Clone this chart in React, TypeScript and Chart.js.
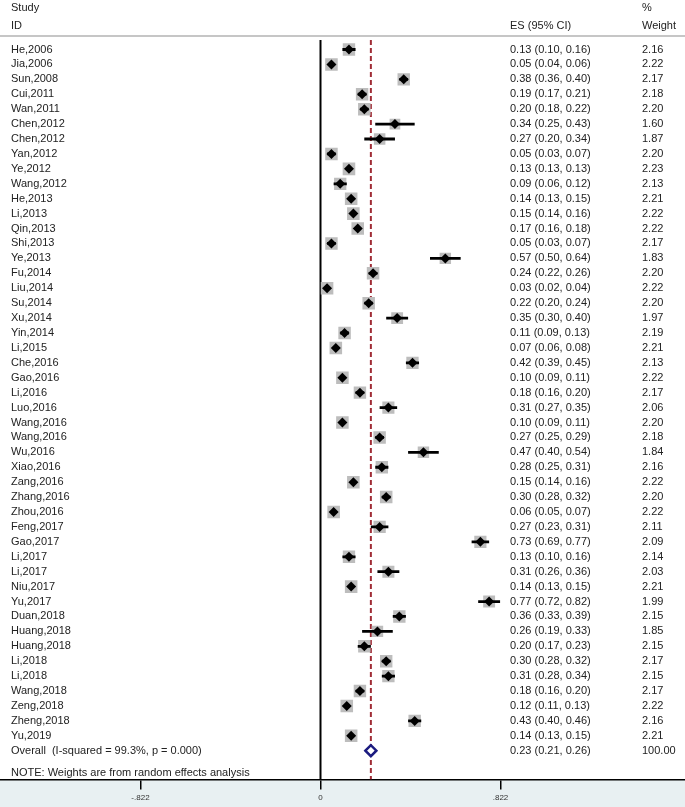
import React, { useEffect, useRef } from "react";
import { Chart, registerables } from "chart.js";

Chart.register(...registerables);

// ---------------- data ----------------
const studies = [
  "He,2006", "Jia,2006", "Sun,2008", "Cui,2011", "Wan,2011", "Chen,2012", "Chen,2012", "Yan,2012",
  "Ye,2012", "Wang,2012", "He,2013", "Li,2013", "Qin,2013", "Shi,2013", "Ye,2013", "Fu,2014",
  "Liu,2014", "Su,2014", "Xu,2014", "Yin,2014", "Li,2015", "Che,2016", "Gao,2016", "Li,2016",
  "Luo,2016", "Wang,2016", "Wang,2016", "Wu,2016", "Xiao,2016", "Zang,2016", "Zhang,2016", "Zhou,2016",
  "Feng,2017", "Gao,2017", "Li,2017", "Li,2017", "Niu,2017", "Yu,2017", "Duan,2018", "Huang,2018",
  "Huang,2018", "Li,2018", "Li,2018", "Wang,2018", "Zeng,2018", "Zheng,2018", "Yu,2019",
];
const es = [
  0.13, 0.05, 0.38, 0.19, 0.20, 0.34, 0.27, 0.05,
  0.13, 0.09, 0.14, 0.15, 0.17, 0.05, 0.57, 0.24,
  0.03, 0.22, 0.35, 0.11, 0.07, 0.42, 0.10, 0.18,
  0.31, 0.10, 0.27, 0.47, 0.28, 0.15, 0.30, 0.06,
  0.27, 0.73, 0.13, 0.31, 0.14, 0.77, 0.36, 0.26,
  0.20, 0.30, 0.31, 0.18, 0.12, 0.43, 0.14,
];
const lower = [
  0.10, 0.04, 0.36, 0.17, 0.18, 0.25, 0.20, 0.03,
  0.13, 0.06, 0.13, 0.14, 0.16, 0.03, 0.50, 0.22,
  0.02, 0.20, 0.30, 0.09, 0.06, 0.39, 0.09, 0.16,
  0.27, 0.09, 0.25, 0.40, 0.25, 0.14, 0.28, 0.05,
  0.23, 0.69, 0.10, 0.26, 0.13, 0.72, 0.33, 0.19,
  0.17, 0.28, 0.28, 0.16, 0.11, 0.40, 0.13,
];
const upper = [
  0.16, 0.06, 0.40, 0.21, 0.22, 0.43, 0.34, 0.07,
  0.13, 0.12, 0.15, 0.16, 0.18, 0.07, 0.64, 0.26,
  0.04, 0.24, 0.40, 0.13, 0.08, 0.45, 0.11, 0.20,
  0.35, 0.11, 0.29, 0.54, 0.31, 0.16, 0.32, 0.07,
  0.31, 0.77, 0.16, 0.36, 0.15, 0.82, 0.39, 0.33,
  0.23, 0.32, 0.34, 0.20, 0.13, 0.46, 0.15,
];
const weights = [
  2.16, 2.22, 2.17, 2.18, 2.20, 1.60, 1.87, 2.20,
  2.23, 2.13, 2.21, 2.22, 2.22, 2.17, 1.83, 2.20,
  2.22, 2.20, 1.97, 2.19, 2.21, 2.13, 2.22, 2.17,
  2.06, 2.20, 2.18, 1.84, 2.16, 2.22, 2.20, 2.22,
  2.11, 2.09, 2.14, 2.03, 2.21, 1.99, 2.15, 1.85,
  2.15, 2.17, 2.15, 2.17, 2.22, 2.16, 2.21,
];
const overallLabel = "Overall  (I-squared = 99.3%, p = 0.000)";
const overallES = 0.23;
const overallLower = 0.21;
const overallUpper = 0.26;
const overallWeight = "100.00";
const noteText = "NOTE: Weights are from random effects analysis";
const headerLeft = ["Study", "ID"];
const headerES = "ES (95% CI)";
const headerWeight = ["%", "Weight"];
const xTickValues = [-0.822, 0, 0.822];
const xTickLabels = ["-.822", "0", ".822"];

// ---------------- layout constants ----------------
const W = 685;
const H = 807;
const ROW_PX = 14.92;
const FIRST_ROW_PX = 49.5;
const AREA_BOTTOM = 779.4;
const Y_MIN = -FIRST_ROW_PX / ROW_PX;
const Y_MAX = Y_MIN + AREA_BOTTOM / ROW_PX;
const ZERO_PX = 320.5;
const PX_PER_UNIT = 219;
const X_MIN = -ZERO_PX / PX_PER_UNIT;
const X_MAX = (W - ZERO_PX) / PX_PER_UNIT;
const LINE_TOP = (40 - FIRST_ROW_PX) / ROW_PX;
const HEADER_RULE = (36 - FIRST_ROW_PX) / ROW_PX;
const HEADER_ROW1 = (8 - FIRST_ROW_PX) / ROW_PX;
const HEADER_ROW2 = (25.5 - FIRST_ROW_PX) / ROW_PX;
const NOTE_ROW = (773 - FIRST_ROW_PX) / ROW_PX;
const COL_NAME = 11;
const COL_ES = 510;
const COL_W = 642;
const FONT = '11px "Liberation Sans", Arial, Helvetica, sans-serif';
const TEXT_COLOR = "#222222";

const fmt = (v: number) => v.toFixed(2);

const forestPlugin = {
  id: "forestText",
  beforeDraw(chart: any) {
    const { ctx, chartArea, width, height } = chart;
    ctx.save();
    ctx.fillStyle = "#ffffff";
    ctx.fillRect(0, 0, width, height);
    ctx.fillStyle = "#e8f0f2";
    ctx.fillRect(0, chartArea.bottom, width, height - chartArea.bottom);
    const yr = chart.scales.y.getPixelForValue(HEADER_RULE);
    ctx.strokeStyle = "#c6c6c6";
    ctx.lineWidth = 2;
    ctx.beginPath();
    ctx.moveTo(0, yr);
    ctx.lineTo(width, yr);
    ctx.stroke();
    ctx.restore();
  },
  afterDraw(chart: any) {
    const { ctx } = chart;
    const y = chart.scales.y;
    ctx.save();
    ctx.font = FONT;
    ctx.fillStyle = TEXT_COLOR;
    ctx.textBaseline = "middle";
    ctx.textAlign = "left";
    ctx.fillText(headerLeft[0], COL_NAME, y.getPixelForValue(HEADER_ROW1));
    ctx.fillText(headerLeft[1], COL_NAME, y.getPixelForValue(HEADER_ROW2));
    ctx.fillText(headerES, COL_ES, y.getPixelForValue(HEADER_ROW2));
    ctx.fillText(headerWeight[0], COL_W, y.getPixelForValue(HEADER_ROW1));
    ctx.fillText(headerWeight[1], COL_W, y.getPixelForValue(HEADER_ROW2));
    studies.forEach((s, i) => {
      const py = y.getPixelForValue(i);
      ctx.fillText(s, COL_NAME, py);
      ctx.fillText(`${fmt(es[i])} (${fmt(lower[i])}, ${fmt(upper[i])})`, COL_ES, py);
      ctx.fillText(fmt(weights[i]), COL_W, py);
    });
    const oy = y.getPixelForValue(studies.length);
    ctx.fillText(overallLabel, COL_NAME, oy);
    ctx.fillText(`${fmt(overallES)} (${fmt(overallLower)}, ${fmt(overallUpper)})`, COL_ES, oy);
    ctx.fillText(overallWeight, COL_W, oy);
    ctx.fillText(noteText, COL_NAME, y.getPixelForValue(NOTE_ROW));
    ctx.restore();
  },
};

export default function App() {
  const ref = useRef<HTMLCanvasElement>(null);

  useEffect(() => {
    document.body.style.margin = "0";
    const canvas = ref.current;
    if (!canvas) return;

    const ciData: any[] = [];
    studies.forEach((_, i) => {
      ciData.push({ x: lower[i], y: i });
      ciData.push({ x: upper[i], y: i });
      ciData.push({ x: NaN, y: NaN });
    });
    const boxData = studies.map((_, i) => ({ x: es[i], y: i }));
    const boxRadius = weights.map((w) => (12.5 * Math.sqrt(w / 2.2)) / Math.SQRT2);

    const chart = new Chart(canvas, {
      type: "scatter",
      data: {
        datasets: [
          {
            label: "diamonds",
            data: boxData,
            pointStyle: "rectRot",
            pointRadius: 5,
            backgroundColor: "#000000",
            borderWidth: 0,
            order: 1,
          } as any,
          {
            label: "overall",
            data: [{ x: overallES, y: studies.length }],
            pointStyle: "rectRot",
            pointRadius: 5.5,
            backgroundColor: "#ffffff",
            borderColor: "#1c1c80",
            borderWidth: 2.5,
            order: 1,
          },
          {
            label: "ci",
            data: ciData,
            showLine: true,
            spanGaps: false,
            pointRadius: 0,
            borderColor: "#000000",
            borderWidth: 2.8,
            order: 2,
          },
          {
            label: "boxes",
            data: boxData,
            pointStyle: "rect",
            pointRadius: boxRadius,
            backgroundColor: "#bdbdbd",
            borderWidth: 0,
            order: 3,
          },
          {
            label: "zero",
            data: [{ x: 0, y: LINE_TOP }, { x: 0, y: Y_MAX }],
            showLine: true,
            pointRadius: 0,
            borderColor: "#000000",
            borderWidth: 2,
            order: 4,
          },
          {
            label: "overall line",
            data: [{ x: overallES, y: LINE_TOP }, { x: overallES, y: Y_MAX }],
            showLine: true,
            pointRadius: 0,
            borderColor: "#a02c36",
            borderWidth: 2,
            borderDash: [5, 3],
            order: 4,
          },
        ],
      },
      options: {
        responsive: false,
        devicePixelRatio: 1,
        animation: false,
        layout: { padding: 0, autoPadding: false },
        plugins: { legend: { display: false }, tooltip: { enabled: false } },
        scales: {
          x: {
            type: "linear",
            position: "bottom",
            min: X_MIN,
            max: X_MAX,
            afterBuildTicks: (axis: any) => {
              axis.ticks = xTickValues.map((v) => ({ value: v }));
            },
            ticks: {
              font: { size: 8, family: '"Liberation Sans", Arial, sans-serif' },
              color: "#333333",
              padding: 4,
              maxRotation: 0,
              autoSkip: false,
              callback: (v: any) => {
                const idx = xTickValues.indexOf(Number(v));
                return idx >= 0 ? xTickLabels[idx] : "";
              },
            },
            grid: {
              drawOnChartArea: false,
              drawTicks: true,
              tickLength: 10,
              color: "#000000",
              lineWidth: 1.5,
            },
            border: { display: true, color: "#000000", width: 1.5 },
          },
          y: {
            type: "linear",
            display: false,
            reverse: true,
            min: Y_MIN,
            max: Y_MAX,
          },
        },
      },
      plugins: [forestPlugin],
    });
    return () => chart.destroy();
  }, []);

  return <canvas ref={ref} width={W} height={H} style={{ display: "block" }} />;
}
